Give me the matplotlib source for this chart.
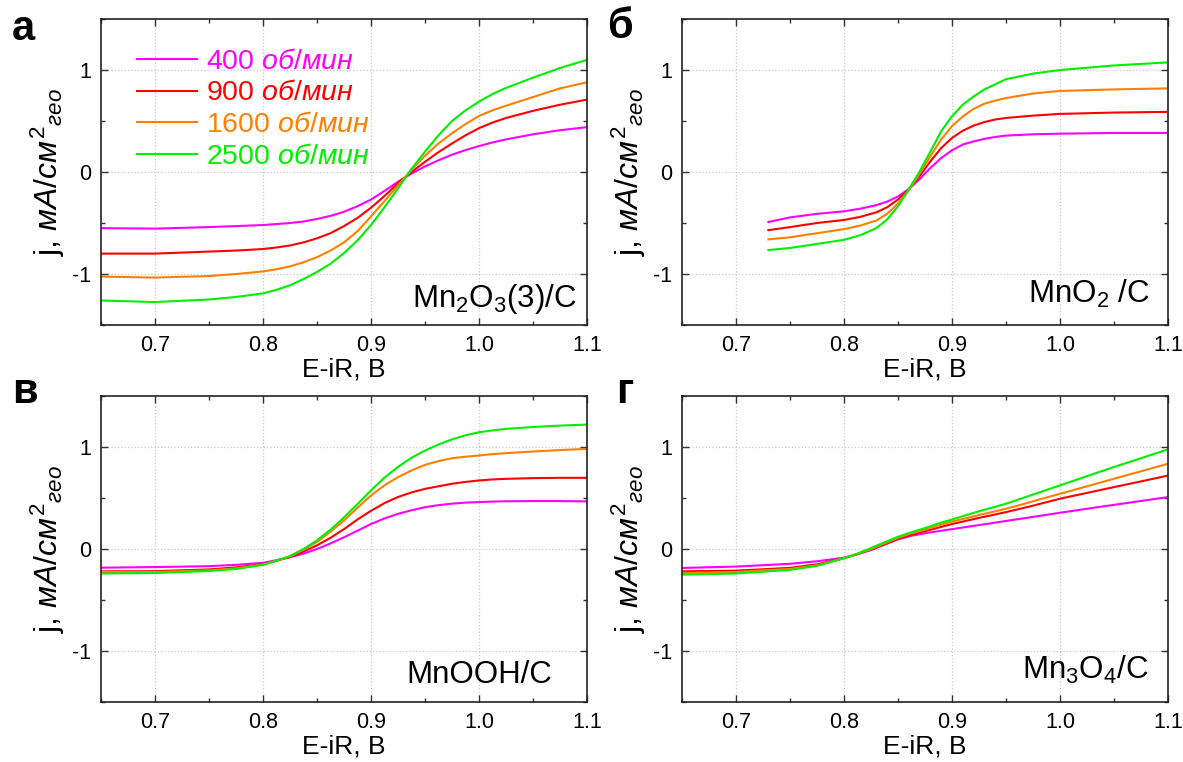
import matplotlib
matplotlib.use("Agg")
import matplotlib.pyplot as plt
from matplotlib.ticker import MultipleLocator

plt.rcParams['font.family'] = ['Liberation Sans', 'DejaVu Sans']
plt.rcParams['mathtext.fontset'] = 'custom'
plt.rcParams['mathtext.rm'] = 'Liberation Sans'
plt.rcParams['mathtext.it'] = 'Liberation Sans:italic'
plt.rcParams['mathtext.bf'] = 'Liberation Sans:bold'
plt.rcParams['axes.unicode_minus'] = False

# rotation speeds
rpm_labels = ["400", "900", "1600", "2500"]
colors = ["#FF00FF", "#FF0000", "#FF8000", "#00F000"]

# potential grid (E-iR, V)
x_common = [0.65, 0.7, 0.75, 0.775, 0.8, 0.8125, 0.825, 0.8375, 0.85, 0.8625, 0.875, 0.8875, 0.9,
            0.9125, 0.925, 0.9375, 0.95, 0.9625, 0.975, 0.9875, 1.0, 1.0125, 1.025, 1.05, 1.075, 1.1]
x_mno2 = [0.73, 0.75, 0.775, 0.8, 0.815, 0.83, 0.84, 0.85, 0.86, 0.87, 0.88, 0.89, 0.9,
          0.91, 0.92, 0.93, 0.94, 0.95, 0.975, 1.0, 1.05, 1.1]

# а: Mn2O3(3)/C
mn2o3_400 = [-0.55, -0.555, -0.54, -0.53, -0.52, -0.51, -0.50, -0.485, -0.46, -0.43, -0.39, -0.335, -0.27,
             -0.185, -0.095, -0.015, 0.055, 0.115, 0.17, 0.215, 0.255, 0.29, 0.32, 0.37, 0.41, 0.44]
mn2o3_900 = [-0.80, -0.80, -0.78, -0.77, -0.755, -0.74, -0.72, -0.69, -0.65, -0.60, -0.53, -0.45, -0.35,
             -0.235, -0.11, 0.0, 0.10, 0.195, 0.28, 0.36, 0.43, 0.485, 0.53, 0.60, 0.66, 0.71]
mn2o3_1600 = [-1.025, -1.035, -1.02, -1.00, -0.975, -0.953, -0.925, -0.885, -0.835, -0.77, -0.69, -0.58, -0.435,
              -0.285, -0.13, 0.02, 0.16, 0.28, 0.38, 0.47, 0.55, 0.605, 0.65, 0.735, 0.82, 0.88]
mn2o3_2500 = [-1.26, -1.275, -1.25, -1.225, -1.19, -1.155, -1.11, -1.05, -0.98, -0.90, -0.795, -0.67, -0.52,
              -0.345, -0.16, 0.03, 0.20, 0.36, 0.50, 0.605, 0.69, 0.765, 0.825, 0.925, 1.02, 1.10]

# б: MnO2/C
mno2_400 = [-0.49, -0.445, -0.41, -0.385, -0.36, -0.325, -0.29, -0.24, -0.167, -0.07, 0.04, 0.137, 0.213,
            0.27, 0.30, 0.325, 0.344, 0.357, 0.37, 0.376, 0.383, 0.383]
mno2_900 = [-0.57, -0.54, -0.50, -0.47, -0.44, -0.395, -0.345, -0.27, -0.17, -0.04, 0.105, 0.235, 0.334,
            0.405, 0.455, 0.49, 0.515, 0.53, 0.553, 0.57, 0.583, 0.59]
mno2_1600 = [-0.66, -0.64, -0.60, -0.56, -0.525, -0.475, -0.41, -0.31, -0.18, -0.015, 0.155, 0.32, 0.45,
             0.545, 0.62, 0.67, 0.70, 0.725, 0.77, 0.795, 0.81, 0.82]
mno2_2500 = [-0.765, -0.745, -0.705, -0.665, -0.62, -0.55, -0.465, -0.335, -0.17, 0.005, 0.20, 0.40, 0.547,
             0.66, 0.74, 0.81, 0.86, 0.91, 0.965, 1.0, 1.045, 1.075]

# в: MnOOH/C
mnooh_400 = [-0.183, -0.177, -0.168, -0.155, -0.135, -0.11, -0.08, -0.045, 0.0, 0.055, 0.115, 0.18, 0.245,
             0.30, 0.345, 0.38, 0.41, 0.43, 0.445, 0.455, 0.46, 0.465, 0.468, 0.47, 0.47, 0.467]
mnooh_900 = [-0.219, -0.217, -0.20, -0.18, -0.148, -0.115, -0.078, -0.025, 0.036, 0.11, 0.195, 0.29, 0.375,
             0.45, 0.51, 0.555, 0.59, 0.615, 0.64, 0.658, 0.672, 0.682, 0.688, 0.695, 0.698, 0.698]
mnooh_1600 = [-0.225, -0.225, -0.209, -0.19, -0.152, -0.115, -0.072, -0.005, 0.07, 0.17, 0.28, 0.405, 0.525,
              0.625, 0.705, 0.77, 0.825, 0.862, 0.89, 0.905, 0.917, 0.93, 0.94, 0.956, 0.97, 0.982]
mnooh_2500 = [-0.24, -0.235, -0.215, -0.195, -0.155, -0.115, -0.068, 0.0, 0.085, 0.19, 0.31, 0.44, 0.575,
              0.70, 0.805, 0.895, 0.965, 1.025, 1.075, 1.115, 1.145, 1.163, 1.178, 1.196, 1.21, 1.22]

# г: Mn3O4/C
mn3o4_400 = [-0.186, -0.172, -0.145, -0.12, -0.085, -0.05, -0.01, 0.045, 0.095, 0.13, 0.155, 0.175, 0.195,
             0.215, 0.235, 0.255, 0.275, 0.295, 0.315, 0.335, 0.356, 0.375, 0.395, 0.433, 0.471, 0.509]
mn3o4_900 = [-0.219, -0.212, -0.185, -0.15, -0.09, -0.05, -0.005, 0.045, 0.10, 0.14, 0.175, 0.21, 0.245,
             0.275, 0.305, 0.333, 0.362, 0.393, 0.425, 0.459, 0.493, 0.522, 0.55, 0.607, 0.663, 0.72]
mn3o4_1600 = [-0.235, -0.225, -0.195, -0.16, -0.09, -0.048, 0.0, 0.055, 0.11, 0.155, 0.19, 0.23, 0.27,
              0.30, 0.333, 0.364, 0.395, 0.43, 0.468, 0.505, 0.542, 0.578, 0.615, 0.689, 0.762, 0.836]
mn3o4_2500 = [-0.251, -0.24, -0.205, -0.165, -0.09, -0.045, 0.01, 0.065, 0.12, 0.165, 0.205, 0.25, 0.29,
              0.33, 0.37, 0.407, 0.444, 0.489, 0.534, 0.579, 0.624, 0.669, 0.714, 0.804, 0.89, 0.977]

panels = [
    ("а", x_common, [mn2o3_400, mn2o3_900, mn2o3_1600, mn2o3_2500], r"Mn$_2$O$_3$(3)/C", (0.979, 0.059)),
    ("б", x_mno2, [mno2_400, mno2_900, mno2_1600, mno2_2500], r"MnO$_2$ /C", (0.963, 0.072)),
    ("в", x_common, [mnooh_400, mnooh_900, mnooh_1600, mnooh_2500], "MnOOH/C", (0.928, 0.062)),
    ("г", x_common, [mn3o4_400, mn3o4_900, mn3o4_1600, mn3o4_2500], r"Mn$_3$O$_4$/C", (0.959, 0.075)),
]

fig = plt.figure(figsize=(11.83, 7.62), dpi=100)
boxes = [
    [0.0854, 0.5735, 0.4108, 0.4015],
    [0.5765, 0.5735, 0.4108, 0.4015],
    [0.0854, 0.0787, 0.4108, 0.4016],
    [0.5765, 0.0787, 0.4108, 0.4016],
]
letter_pos = [(0.010, 0.948), (0.513, 0.950), (0.010, 0.471), (0.521, 0.471)]

for i, (letter, xs, series, name, npos) in enumerate(panels):
    ax = fig.add_axes(boxes[i])
    for ys, c, lab in zip(series, colors, rpm_labels):
        ax.plot(xs, ys, color=c, lw=1.5, label=lab + r" $\mathit{об/мин}$")
    ax.set_xlim(0.65, 1.1)
    ax.set_ylim(-1.5, 1.5)
    ax.set_xticks([0.7, 0.8, 0.9, 1.0, 1.1])
    ax.set_xticklabels(["0.7", "0.8", "0.9", "1.0", "1.1"])
    ax.set_yticks([-1, 0, 1])
    ax.xaxis.set_minor_locator(MultipleLocator(0.05))
    ax.yaxis.set_minor_locator(MultipleLocator(0.5))
    ax.tick_params(which='both', direction='in', top=True, right=True, labelsize=15.5, width=1.0, color='#333333')
    ax.tick_params(which='major', length=5, pad=7)
    ax.tick_params(which='minor', length=3)
    ax.grid(which='major', linestyle=':', color='#c8c8c8', linewidth=0.9)
    for s in ax.spines.values():
        s.set_linewidth(1.2)
        s.set_color('#222222')
    ax.set_xlabel("E-iR, В", fontsize=19, labelpad=1)
    ax.set_ylabel(r"j, $\mathit{мА/см}^{2}{}_{\mathit{гео}}$", fontsize=23, labelpad=4)
    ax.text(npos[0], npos[1], name, transform=ax.transAxes, ha='right', va='baseline', fontsize=22.5)
    fig.text(letter_pos[i][0], letter_pos[i][1], letter, fontsize=30, fontweight='bold', va='baseline')
    if i == 0:
        ax.legend(loc='upper left', frameon=False, fontsize=20.5, handlelength=2.1,
                  handletextpad=0.35, labelspacing=0.2, labelcolor='linecolor',
                  bbox_to_anchor=(0.05, 0.94), borderaxespad=0)

fig.savefig("out.png", dpi=100)
